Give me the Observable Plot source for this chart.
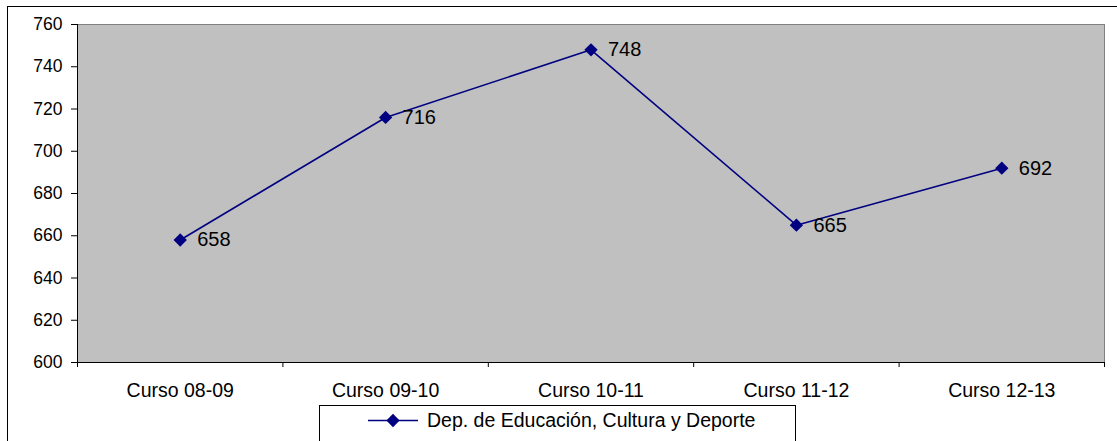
<!DOCTYPE html>
<html><head><meta charset="utf-8">
<script src="https://cdn.jsdelivr.net/npm/d3@7"></script>
<script src="https://cdn.jsdelivr.net/npm/@observablehq/plot@0.6"></script>
<style>body{margin:0;background:#fff;} svg{display:block}</style>
</head><body><div id="chart"></div>
<script>
const categories = ["Curso 08-09", "Curso 09-10", "Curso 10-11", "Curso 11-12", "Curso 12-13"];
const values = [658, 716, 748, 665, 692];
const yTicks = [600, 620, 640, 660, 680, 700, 720, 740, 760];
const seriesName = "Dep. de Educación, Cultura y Deporte";

const data = categories.map((c, i) => ({cat: c, i: i + 0.5, v: values[i]}));
const boundaries = d3.range(categories.length + 1);
const navy = "#000080";
const font = "'Liberation Sans', Arial, sans-serif";

const plot = Plot.plot({
  width: 1117, height: 441,
  marginLeft: 77, marginRight: 13, marginTop: 24, marginBottom: 79,
  style: {fontFamily: font, fontSize: "17.5px", color: "black", background: "white"},
  x: {type: "linear", domain: [0, categories.length]},
  y: {domain: [600, 760]},
  marks: [
    Plot.frame({fill: "#C0C0C0", stroke: "#808080"}),
    Plot.axisY({ticks: yTicks, tickSize: 6, tickPadding: 9, label: null, fontSize: 17.5, stroke: "black", fill: "black"}),
    Plot.axisX({ticks: boundaries, tickSize: 5, tickFormat: () => "", label: null, stroke: "black"}),
    Plot.ruleX([0], {stroke: "black"}),
    Plot.ruleY([600], {stroke: "black"}),
    Plot.text(data, {x: "i", text: "cat", frameAnchor: "bottom", dy: 28, fontSize: 19.5, lineAnchor: "middle", fill: "black"}),
    Plot.line(data, {x: "i", y: "v", stroke: navy, strokeWidth: 1.6}),
    Plot.dot(data, {x: "i", y: "v", symbol: "diamond2", r: 6, fill: navy}),
    Plot.text(data, {x: "i", y: "v", text: d => String(d.v), dx: 17, textAnchor: "start", fontSize: 20, fill: "black"})
  ]
});

const svg = d3.select(plot);
svg.selectAll('g[aria-label="y-axis tick label"]').attr("font-size", 17.5).style("font-size", "17.5px");
// outer chart border
svg.append("rect").attr("x", 7.5).attr("y", 6.5).attr("width", 1140).attr("height", 470)
  .attr("fill", "none").attr("stroke", "black");
// legend
const lg = svg.append("g");
lg.append("rect").attr("x", 319.5).attr("y", 405.5).attr("width", 476).attr("height", 60)
  .attr("fill", "white").attr("stroke", "black");
lg.append("line").attr("x1", 368).attr("x2", 418).attr("y1", 420.5).attr("y2", 420.5)
  .attr("stroke", navy).attr("stroke-width", 1.6);
lg.append("path").attr("d", d3.symbol(d3.symbolDiamond2, Math.PI * 36)())
  .attr("transform", "translate(393,420.5)").attr("fill", navy);
lg.append("text").attr("x", 427).attr("y", 420.5).attr("dy", "0.35em")
  .attr("text-anchor", "start")
  .attr("font-family", font).attr("font-size", 19.5).attr("fill", "black").text(seriesName);

document.getElementById("chart").appendChild(plot);
</script>
</body></html>
